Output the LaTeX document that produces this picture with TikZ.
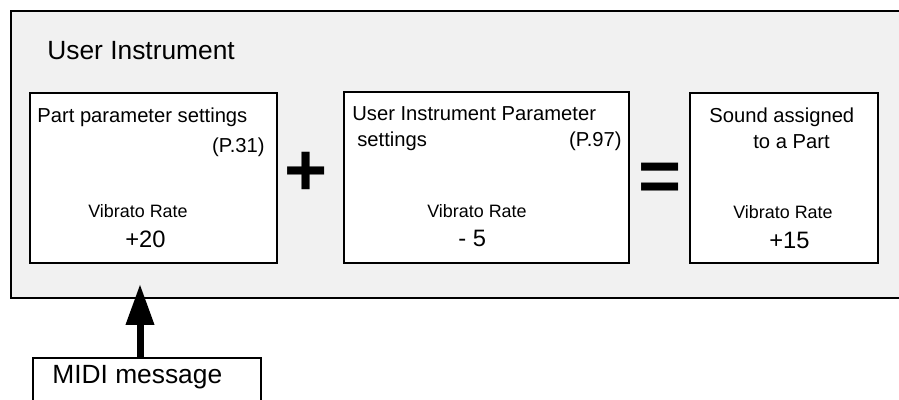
\documentclass[tikz,border=0pt]{standalone}
\usepackage{fontspec}
\setmainfont{Liberation Sans}
\usetikzlibrary{arrows.meta,positioning}
\definecolor{panelgray}{rgb}{0.945,0.945,0.945}
\tikzset{
  marco/.style={
    draw=black,
    line width=1.1pt,
    fill=panelgray,
    inner sep=0pt
  },
  bloque/.style={
    draw=black,
    line width=1.1pt,
    fill=white,
    inner sep=0pt,
    minimum height=3.4cm
  },
  texto/.style={
    inner sep=0pt,
    anchor=base west,
    font=\fontsize{11.5}{13}\selectfont
  },
  rate/.style={
    texto,
    font=\fontsize{10.2}{12}\selectfont
  },
  valor/.style={
    texto,
    font=\fontsize{13.5}{15}\selectfont
  },
  signo/.style={
    inner sep=0pt,
    font=\fontsize{42}{42}\selectfont\bfseries
  },
  flecha/.style={
    -{Triangle[length=0.82cm, width=0.54cm]},
    line width=0.14cm
  }
}

\begin{document}
\begin{tikzpicture}[x=0.02cm, y=-0.02cm]
\useasboundingbox (0,0) rectangle (899,399);
% outer frame
\node[marco, minimum width=18.08cm, minimum height=5.74cm] (instr) at (463,154.5) {};
\node[texto, font=\fontsize{15}{17}\selectfont] (titulo) at (47,59) {User Instrument};
% three setting boxes
\node[bloque, minimum width=4.94cm] (part) at (153.5,178) {};
\node[bloque, minimum width=5.7cm, minimum height=3.42cm] (user) at (486.5,177.5) {};
\node[bloque, minimum width=3.76cm] (sound) at (784,178) {};
\node[texto] (part-t) at (37,122) {Part parameter settings};
\node[texto, anchor=base east] (part-p) at (265,152) {(P.31)};
\node[rate] (part-r) at (88,217) {Vibrato Rate};
\node[valor] (part-v) at (125,247) {+20};
\node[texto] (user-t) at (352,120) {User Instrument Parameter};
\node[texto] (user-s) at (357,146) {settings};
\node[texto, anchor=base east] (user-p) at (622,146) {(P.97)};
\node[rate] (user-r) at (427,217) {Vibrato Rate};
\node[valor] (user-v) at (458,246) {- 5};
\node[texto] (sound-t) at (709,122) {Sound assigned};
\node[texto] (sound-s) at (753,148) {to a Part};
\node[rate] (sound-r) at (733,218) {Vibrato Rate};
\node[valor] (sound-v) at (769,248) {+15};
% operators
\node[signo] (mas) at (306,174) {+};
\node[signo] (igual) at (660.5,182) {=};
% midi input
\node[marco, fill=white, minimum width=4.56cm, minimum height=1.24cm] (midi) at (147,389) {};
\node[texto, font=\fontsize{15}{17}\selectfont] (midi-t) at (52,383) {MIDI message};
\coordinate (tip) at (140,284);
\draw[flecha] (midi.north -| tip) -- (tip);
\end{tikzpicture}
\end{document}
